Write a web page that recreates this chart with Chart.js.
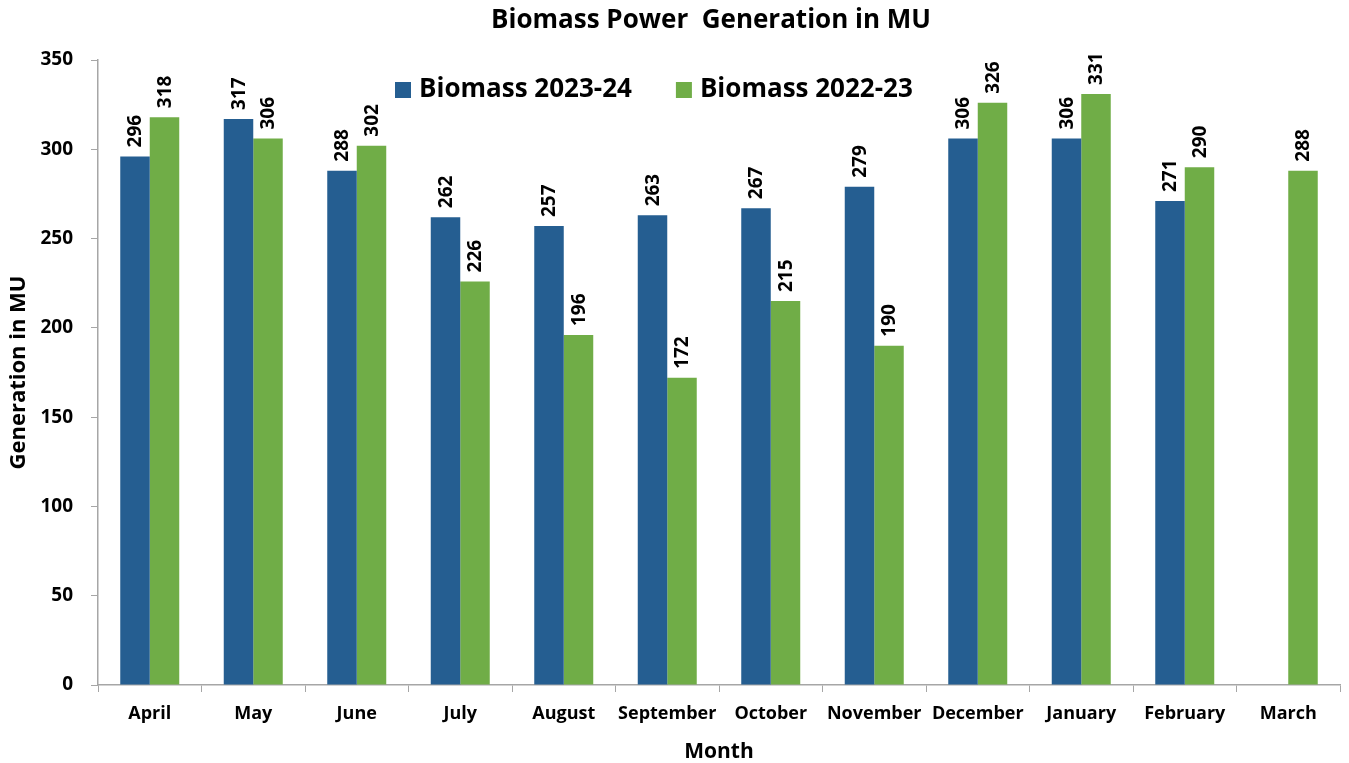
<!DOCTYPE html>
<html>
<head>
<meta charset="utf-8">
<script src="https://cdn.jsdelivr.net/npm/chart.js@4.4.1/dist/chart.umd.min.js"></script>
<style>
  body { margin: 0; background: #fff; }
  #wrap { width: 1349px; height: 763px; }
</style>
</head>
<body>
<div id="wrap"><canvas id="myChart" width="1349" height="763"></canvas></div>
<script>
// values
const months = ['April', 'May', 'June', 'July', 'August', 'September', 'October',
                'November', 'December', 'January', 'February', 'March'];
const biomass2324 = [296, 317, 288, 262, 257, 263, 267, 279, 306, 306, 271, null];
const biomass2223 = [318, 306, 302, 226, 196, 172, 215, 190, 326, 331, 290, 288];
const yTicks = [0, 50, 100, 150, 200, 250, 300, 350];

const FONT = "'Open Sans', 'Noto Sans', sans-serif";
const axisGrey = '#a6a6a6';

// rotated value labels above each bar
const barLabels = {
    id: 'barLabels',
    afterDatasetsDraw(chart) {
        const ctx = chart.ctx;
        ctx.save();
        ctx.font = 'bold 19px ' + FONT;
        ctx.fillStyle = '#000';
        ctx.textAlign = 'left';
        ctx.textBaseline = 'middle';
        chart.data.datasets.forEach((ds, i) => {
            chart.getDatasetMeta(i).data.forEach((bar, j) => {
                const v = ds.data[j];
                if (v === null || v === undefined) return;
                ctx.save();
                ctx.translate(bar.x + 1, bar.y - 9);
                ctx.rotate(-Math.PI / 2);
                ctx.fillText(String(v), 0, 0);
                ctx.restore();
            });
        });
        ctx.restore();
    }
};

// title and legend sit inside the top of the plot in the original
const header = {
    id: 'header',
    afterDraw(chart) {
        const ctx = chart.ctx;
        ctx.save();
        ctx.fillStyle = '#000';
        ctx.textBaseline = 'middle';
        ctx.textAlign = 'center';
        ctx.font = 'bold 26px ' + FONT;
        ctx.fillText('Biomass Power  Generation in MU', 711, 21);

        ctx.font = 'bold 26px ' + FONT;
        ctx.textAlign = 'left';
        let x = 395;
        const y = 90;
        chart.data.datasets.forEach((ds) => {
            ctx.fillStyle = ds.backgroundColor;
            ctx.fillRect(x, y - 8, 16, 16);
            ctx.fillStyle = '#000';
            ctx.fillText(ds.label, x + 24, y);
            x += 24 + ctx.measureText(ds.label).width + 44;
        });
        ctx.restore();
    }
};

const ctx = document.getElementById('myChart').getContext('2d');

const myChart = new Chart(ctx, {
    type: 'bar',
    data: {
        labels: months,
        datasets: [{
            label: 'Biomass 2023-24',
            data: biomass2324,
            backgroundColor: '#255e91'
        }, {
            label: 'Biomass 2022-23',
            data: biomass2223,
            backgroundColor: '#70ad47'
        }]
    },
    options: {
        responsive: false,
        animation: false,
        categoryPercentage: 0.57,
        barPercentage: 1.0,
        layout: { padding: { top: 60, right: 9, left: 0, bottom: 0 } },
        plugins: {
            legend: { display: false },
            title: { display: false },
            tooltip: { enabled: false }
        },
        scales: {
            x: {
                grid: { drawOnChartArea: false, drawTicks: true, tickLength: 7, color: axisGrey },
                border: { color: axisGrey, width: 1.5 },
                ticks: { color: '#000', font: { family: FONT, size: 18, weight: 'bold' }, padding: 11,
                         minRotation: 0, maxRotation: 0, autoSkip: false },
                title: { display: true, text: 'Month', color: '#000',
                         font: { family: FONT, size: 21, weight: 'bold' }, padding: { top: 2, bottom: -2 } },
                afterFit(scale) { scale.height = 78; }
            },
            y: {
                min: 0,
                max: 350,
                afterBuildTicks(scale) { scale.ticks = yTicks.map(v => ({ value: v })); },
                grid: { drawOnChartArea: false, drawTicks: true, tickLength: 7, color: axisGrey },
                border: { color: axisGrey, width: 1.5 },
                ticks: { color: '#000', font: { family: FONT, size: 19, weight: 'bold' }, padding: 18 },
                title: { display: true, text: 'Generation in MU', color: '#000',
                         font: { family: FONT, size: 22, weight: 'bold' }, padding: { top: 6, bottom: 0 } },
                afterFit(scale) { scale.width = 98; }
            }
        }
    },
    plugins: [barLabels, header]
});
</script>
</body>
</html>
